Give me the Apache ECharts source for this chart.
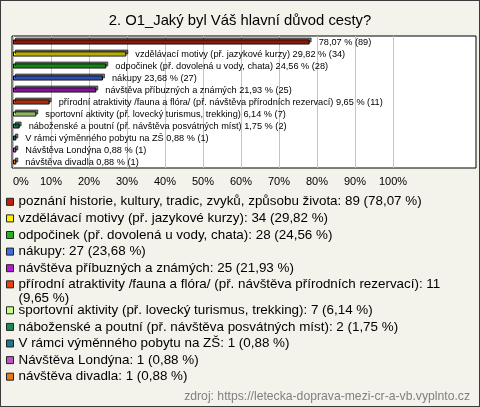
<!DOCTYPE html>
<html>
<head>
<meta charset="utf-8">
<script src="https://cdn.jsdelivr.net/npm/echarts@6/dist/echarts.min.js"></script>
<style>
  html, body { margin: 0; padding: 0; background: #fff; }
  #chart { width: 478px; height: 405px; border: 1px solid #3a3a3a; background: #f3f2eb; }
</style>
</head>
<body>
<div id="chart"></div>
<script>
// ---- data ----
var titleText = '2. O1_Jaký byl Váš hlavní důvod cesty?';
var sourceText = 'zdroj: https://letecka-doprava-mezi-cr-a-vb.vyplnto.cz';
var categories = [
  'poznání historie, kultury, tradic, zvyků, způsobu života',
  'vzdělávací motivy (př. jazykové kurzy)',
  'odpočinek (př. dovolená u vody, chata)',
  'nákupy',
  'návštěva příbuzných a známých',
  'přírodní atraktivity /fauna a flóra/ (př. návštěva přírodních rezervací)',
  'sportovní aktivity (př. lovecký turismus, trekking)',
  'náboženské a poutní (př. návštěva posvátných míst)',
  'V rámci výměnného pobytu na ZŠ',
  'Návštěva Londýna',
  'návštěva divadla'
];
var counts = [89, 34, 28, 27, 25, 11, 7, 2, 1, 1, 1];
var percents = [78.07, 29.82, 24.56, 23.68, 21.93, 9.65, 6.14, 1.75, 0.88, 0.88, 0.88];
var showNameInBarLabel = [false, true, true, true, true, true, true, true, true, true, true];
var legendWrap = [false, false, false, false, false, true, false, false, false, false, false];
var colors = ['#c41e0c', '#ffee00', '#1fb51f', '#3d6de6', '#b41bd4', '#e6420e',
              '#c8fb86', '#178c55', '#1e778c', '#c152c4', '#e8780f'];
var xTicks = { min: 0, max: 100, interval: 10 };

// ---- helpers ----
function fmtPct(v) { return v.toFixed(2).replace('.', ','); }
var FONT = 'Liberation Sans';

var series = categories.map(function (name, i) {
  return {
    name: name,
    type: 'bar',
    xAxisIndex: 1,
    yAxisIndex: 1,
    stack: 'all',
    barWidth: 5,
    itemStyle: { color: colors[i], borderColor: '#000', borderWidth: 1,
                 shadowColor: 'rgba(0,0,0,0.55)', shadowOffsetX: 2, shadowOffsetY: -2, shadowBlur: 0 },
    label: {
      show: true,
      position: 'right',
      distance: 9,
      fontFamily: FONT,
      fontSize: 9.2,
      color: '#000',
      formatter: function () {
        var t = fmtPct(percents[i]) + ' % (' + counts[i] + ')';
        return showNameInBarLabel[i] ? categories[i] + ' ' + t : t;
      }
    },
    data: categories.map(function (c, j) { return j === i ? percents[i] : '-'; })
  };
});

var legendCommon = {
  orient: 'vertical',
  left: 5,
  padding: 0,
  itemWidth: 7,
  itemHeight: 7,
  itemGap: 3,
  icon: 'rect',
  selectedMode: false,
  itemStyle: { shadowColor: 'transparent', shadowOffsetX: 0, shadowOffsetY: 0, borderColor: '#222', borderWidth: 1 },
  textStyle: { fontFamily: FONT, fontSize: 13.4, color: '#000', lineHeight: 13.6 },
  formatter: function (name) {
    var i = categories.indexOf(name);
    return name + ': ' + counts[i] + (legendWrap[i] ? '\n' : ' ') + '(' + fmtPct(percents[i]) + ' %)';
  }
};
function legendFor(idx, top, extra) {
  return Object.assign({}, legendCommon, { top: top, data: idx.map(function (k) { return categories[k]; }) }, extra || {});
}

var chart = echarts.init(document.getElementById('chart'), null, { renderer: 'canvas' });
chart.setOption({
  animation: false,
  title: [
    { text: titleText, left: 'center', top: 12, padding: 0,
      textStyle: { fontFamily: FONT, fontSize: 14.8, fontWeight: 'normal', color: '#000' } },
    { text: sourceText, right: 9, top: 390, padding: 0,
      textStyle: { fontFamily: FONT, fontSize: 12.2, fontWeight: 'normal', color: '#808080' } }
  ],
  legend: [
    legendFor([0, 1, 2, 3, 4], 194),
    legendFor([5], 276.5, { icon: 'path://M0,0H7V7H0Z M0,20.5', itemHeight: 20.5 }),
    legendFor([6, 7, 8, 9, 10], 302.5)
  ],
  grid: [
    { left: 11, top: 35, width: 464, height: 132, show: true, backgroundColor: '#fff',
      borderColor: '#000', borderWidth: 1 },
    { left: 12, top: 35, width: 380, height: 132 }
  ],
  xAxis: [
    { gridIndex: 0, type: 'value', show: false },
    { gridIndex: 1, type: 'value', min: xTicks.min, max: xTicks.max, interval: xTicks.interval,
      axisLine: { show: false }, axisTick: { show: false },
      splitLine: { show: true, lineStyle: { color: '#c4c4c4', width: 1 } },
      axisLabel: { formatter: '{value}%', margin: 8, fontFamily: FONT, fontSize: 11, color: '#000',
                   alignMinLabel: 'left' } }
  ],
  yAxis: [
    { gridIndex: 0, type: 'value', show: false },
    { gridIndex: 1, type: 'category', inverse: true, data: categories, show: false }
  ],
  series: series
});
</script>
</body>
</html>
